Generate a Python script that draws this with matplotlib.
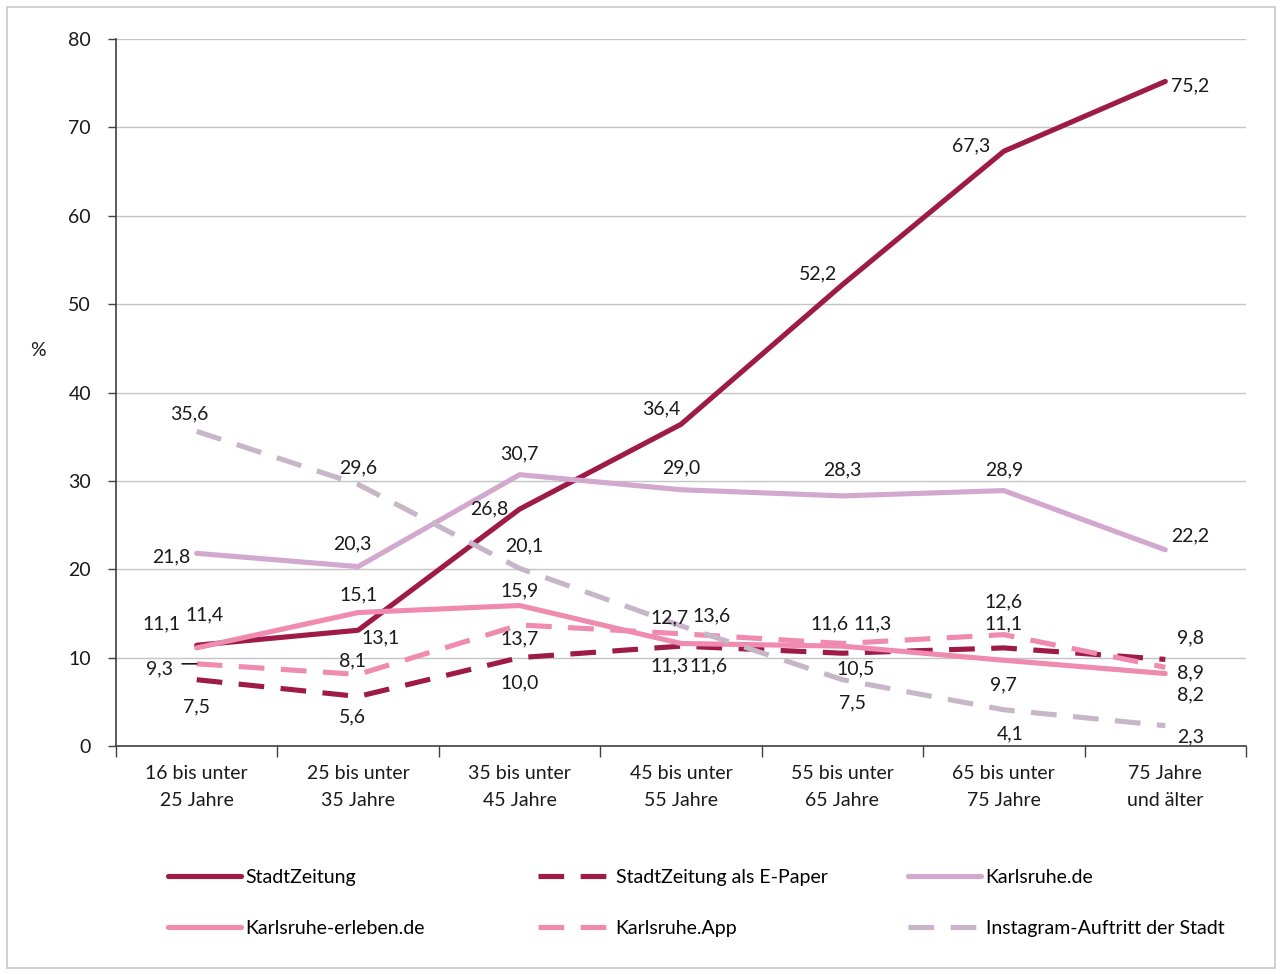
import matplotlib
matplotlib.use("Agg")
import matplotlib.pyplot as plt
from matplotlib.lines import Line2D
from matplotlib.patches import Rectangle

plt.rcParams['font.family'] = ['Lato', 'DejaVu Sans']
FS = 14

categories = ["16 bis unter\n25 Jahre", "25 bis unter\n35 Jahre", "35 bis unter\n45 Jahre",
              "45 bis unter\n55 Jahre", "55 bis unter\n65 Jahre", "65 bis unter\n75 Jahre",
              "75 Jahre\nund älter"]

stadtzeitung = [11.4, 13.1, 26.8, 36.4, 52.2, 67.3, 75.2]
epaper = [7.5, 5.6, 10.0, 11.3, 10.5, 11.1, 9.8]
karlsruhe_de = [21.8, 20.3, 30.7, 29.0, 28.3, 28.9, 22.2]
erleben = [11.1, 15.1, 15.9, 11.6, 11.3, 9.7, 8.2]
app = [9.3, 8.1, 13.7, 12.7, 11.6, 12.6, 8.9]
instagram = [35.6, 29.6, 20.1, 13.6, 7.5, 4.1, 2.3]

names = ["StadtZeitung", "StadtZeitung als E-Paper", "Karlsruhe.de",
         "Karlsruhe-erleben.de", "Karlsruhe.App", "Instagram-Auftritt der Stadt"]
series = [stadtzeitung, epaper, karlsruhe_de, erleben, app, instagram]

DARK = "#9E1A47"
LILAC = "#D3A8CE"
PINK = "#EE8BAE"
GREY = "#C7B5C8"
styles = [
    dict(color=DARK, ls="-"),
    dict(color=DARK, ls=(0, (5, 3.2))),
    dict(color=LILAC, ls="-"),
    dict(color=PINK, ls="-"),
    dict(color=PINK, ls=(0, (5, 3.2))),
    dict(color=GREY, ls=(0, (5, 3.2))),
]

# label offsets in pixels (dx, dy; dy positive = up)
offsets = [
    [(8, 30), (22, -8), (-30, 0), (-20, 15), (-24, 11), (-33, 5), (25, -4)],
    [(0, -27), (-6, -20), (0, -25), (-11, -20), (13, -16), (0, 24), (25, 22)],
    [(-25, -4), (-6, 23), (0, 21), (0, 22), (0, 26), (0, 21), (25, 14)],
    [(-35, 24), (0, 18), (0, 15), (28, -22), (30, 22), (0, -25), (25, -21)],
    [(-37, -5), (-6, 14), (0, -14), (-11, 16), (-13, 20), (0, 33), (25, -6)],
    [(-7, 18), (0, 17), (5, 22), (31, 10), (10, -23), (6, -24), (25, -11)],
]

fig = plt.figure(figsize=(12.82, 9.74), dpi=100)
fig.patches.append(Rectangle((7 / 1282, 6 / 974), 1268 / 1282, 961 / 974, transform=fig.transFigure,
                             fill=False, edgecolor="#C8C8C8", lw=1.2, zorder=-1))
ax = fig.add_axes([116 / 1282, 1 - 746 / 974, 1130 / 1282, 707 / 974])

x = list(range(len(categories)))
for vals, st, name in zip(series, styles, names):
    ax.plot(x, vals, color=st["color"], ls=st["ls"], lw=3.7, label=name,
            solid_capstyle="round", dash_capstyle="butt", zorder=3)

for vals, offs in zip(series, offsets):
    for xi, v, (dx, dy) in zip(x, vals, offs):
        ax.annotate(f"{v:.1f}".replace(".", ","), (xi, v), xytext=(dx * 0.72, dy * 0.72),
                    textcoords="offset points", ha="center", va="center",
                    fontsize=FS, color="#1a1a1a", zorder=4)

# leader line for 9,3
ax.annotate("", xy=(0, 9.3), xytext=(-0.09, 9.3),
            arrowprops=dict(arrowstyle="-", color="#1a1a1a", lw=1.2, shrinkA=0, shrinkB=0))

ax.set_xlim(-0.5, 6.5)
ax.set_ylim(0, 80)
ax.set_yticks(range(0, 81, 10))
ax.yaxis.grid(True, color="#C4C4C4", lw=1)
ax.set_axisbelow(True)
ax.set_xticks([i - 0.5 for i in range(8)])
ax.set_xticklabels([])
ax.set_xticks(x, minor=True)
ax.set_xticklabels(categories, minor=True, fontsize=FS, color="#1a1a1a", linespacing=1.65)
ax.tick_params(axis="x", which="major", length=8, width=1, color="#404040", direction="out")
ax.tick_params(axis="x", which="minor", length=0, pad=14)
ax.tick_params(axis="y", length=6, width=1, color="#404040", labelsize=FS,
               labelcolor="#1a1a1a", pad=12)
for s in ["top", "right"]:
    ax.spines[s].set_visible(False)
for s in ["left", "bottom"]:
    ax.spines[s].set_color("#404040")
    ax.spines[s].set_linewidth(1.2)

fig.text(38 / 1282, 1 - 350 / 974, "%", fontsize=FS, ha="center", va="center", color="#1a1a1a")

# legend, three columns placed individually
col_x = [160, 530, 900]
for c in range(3):
    handles = []
    labels = []
    for r in range(2):
        i = r * 3 + c
        st = styles[i]
        handles.append(Line2D([], [], color=st["color"], ls=st["ls"], lw=3.7,
                              solid_capstyle="round"))
        labels.append(names[i])
    leg = fig.legend(handles, labels, loc="upper left",
                     bbox_to_anchor=(col_x[c] / 1282, 1 - 861 / 974),
                     frameon=False, fontsize=FS, handlelength=3.75, handletextpad=0.25,
                     labelspacing=1.75, borderaxespad=0)

fig.savefig("out.png", dpi=100)
